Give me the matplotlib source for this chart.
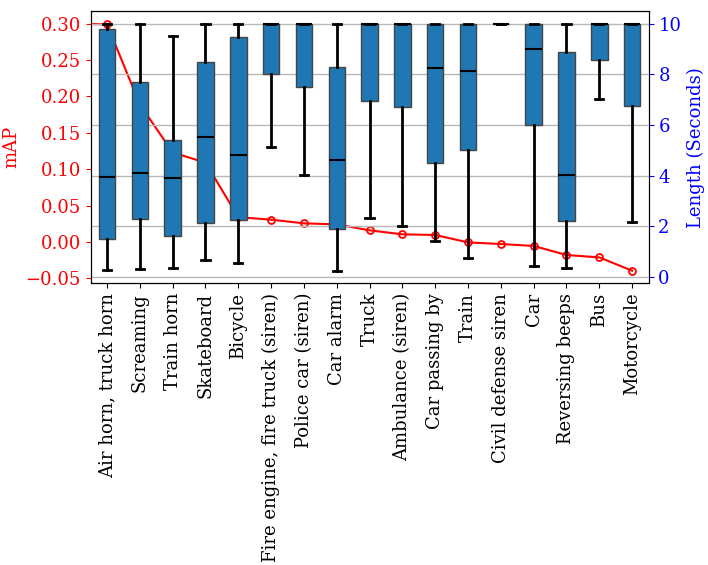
import matplotlib
matplotlib.use('Agg')
import matplotlib.pyplot as plt
from matplotlib.ticker import MultipleLocator

plt.rcParams['font.family'] = 'DejaVu Serif'

labels = ["Air horn, truck horn", "Screaming", "Train horn", "Skateboard", "Bicycle",
          "Fire engine, fire truck (siren)", "Police car (siren)", "Car alarm", "Truck",
          "Ambulance (siren)", "Car passing by", "Train", "Civil defense siren", "Car",
          "Reversing beeps", "Bus", "Motorcycle"]

# mAP line (first point sits left of the first class, off the visible range)
map_vals = [0.300, 0.299, 0.189, 0.123, 0.109, 0.034, 0.0307, 0.0256, 0.0242, 0.016,
            0.0105, 0.0096, -0.0006, -0.0028, -0.0055, -0.0179, -0.0212, -0.0395]

# clip length stats (seconds)
whislo = [0.26, 0.32, 0.34, 0.66, 0.54, 5.13, 4.01, 0.24, 2.32, 2.00, 1.41, 0.75, 10.0, 0.43, 0.34, 7.01, 2.15]
q1 = [1.49, 2.29, 1.61, 2.12, 2.24, 8.00, 7.49, 1.88, 6.93, 6.70, 4.50, 5.00, 10.0, 6.00, 2.19, 8.57, 6.75]
med = [3.95, 4.10, 3.91, 5.51, 4.80, 10.0, 10.0, 4.63, 10.0, 10.0, 8.26, 8.13, 10.0, 9.00, 4.04, 10.0, 10.0]
q3 = [9.78, 7.70, 5.42, 8.50, 9.46, 10.0, 10.0, 8.28, 10.0, 10.0, 10.0, 10.0, 10.0, 10.0, 8.88, 10.0, 10.0]
whishi = [10.0, 10.0, 9.53, 10.0, 10.0, 10.0, 10.0, 10.0, 10.0, 10.0, 10.0, 10.0, 10.0, 10.0, 10.0, 10.0, 10.0]

stats = []
for i in range(len(labels)):
    stats.append({'label': labels[i], 'whislo': whislo[i], 'q1': q1[i], 'med': med[i],
                  'q3': q3[i], 'whishi': whishi[i], 'fliers': []})

fig, ax = plt.subplots(figsize=(7.08, 5.65), dpi=100)
fig.subplots_adjust(left=0.128, right=0.916, top=0.98, bottom=0.499)

ax.plot(range(len(map_vals)), map_vals, color='red', marker='o', markersize=5,
        markerfacecolor='none', markeredgewidth=1.3, linewidth=1.5)
ax.set_ylabel('mAP', color='red', fontsize=13)
ax.tick_params(axis='y', colors='red', labelsize=13)
ax.yaxis.set_major_locator(MultipleLocator(0.05))

ax2 = ax.twinx()
ax2.bxp(stats, positions=range(1, len(labels) + 1), widths=0.5, patch_artist=True,
        showfliers=False,
        boxprops=dict(facecolor='#1f77b4', edgecolor='#444444', linewidth=1),
        medianprops=dict(color='black', linewidth=1.5),
        whiskerprops=dict(color='black', linewidth=2),
        capprops=dict(color='black', linewidth=2))
ax2.set_ylabel('Length (Seconds)', color='blue', fontsize=13)
ax2.tick_params(axis='y', colors='blue', labelsize=13)
ax2.yaxis.grid(True, color='#b8b8b8', linewidth=1)
ax2.set_xlim(0.5, len(labels) + 0.5)

ax.set_xticks(range(1, len(labels) + 1))
ax.set_xticklabels(labels, rotation=90, fontsize=13)
ax2.set_xticks(range(1, len(labels) + 1))
ax2.set_xticklabels(labels, rotation=90, fontsize=13)

fig.savefig('out.png')
